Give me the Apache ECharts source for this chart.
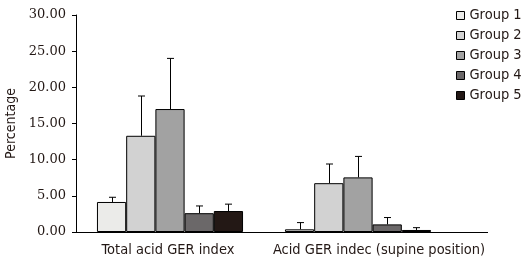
<!DOCTYPE html>
<html>
<head>
<meta charset="utf-8">
<script src="https://cdn.jsdelivr.net/npm/echarts@6/dist/echarts.min.js"></script>
<style>
  html, body { margin: 0; padding: 0; background: #fff; }
  #chart { width: 531px; height: 267px; }
</style>
</head>
<body>
<div id="chart"></div>
<script>
// values
const categories = ["Total acid GER index", "Acid GER indec (supine position)"];
const groups = ["Group 1", "Group 2", "Group 3", "Group 4", "Group 5"];
const means = [
  [4.15, 0.37],
  [13.3, 6.75],
  [17.0, 7.55],
  [2.6, 1.05],
  [2.9, 0.28],
];
const errTops = [
  [4.8, 1.3],
  [18.8, 9.4],
  [24.0, 10.45],
  [3.6, 2.0],
  [3.85, 0.6],
];
const yTicks = [0, 5, 10, 15, 20, 25, 30];

const colors = ["#ebebe9", "#d2d2d2", "#a2a2a2", "#6b6869", "#231815"];
const catGap = 0.223;
const sansFont = "'DejaVu Sans Condensed', 'DejaVu Sans', sans-serif";
const textColor = "#231815";

const chart = echarts.init(document.getElementById("chart"));

const barSeries = groups.map((g, i) => ({
  name: g,
  type: "bar",
  data: means[i],
  barGap: "0%",
  barCategoryGap: catGap * 100 + "%",
  itemStyle: { color: colors[i], borderColor: "#000", borderWidth: 1 },
  emphasis: { disabled: true },
}));

const errSeries = groups.map((g, i) => ({
  name: g + " err",
  type: "custom",
  z: 1,
  data: categories.map((c, k) => [k, means[i][k], errTops[i][k]]),
  renderItem(params, api) {
    const band = api.size([1, 0])[0];
    const bw = (band * (1 - catGap)) / groups.length;
    const base = api.coord([api.value(0), api.value(1)]);
    const top = api.coord([api.value(0), api.value(2)]);
    const x = Math.round(base[0] + (i - 2) * bw) + 0.5;
    const style = { stroke: "#000", lineWidth: 1 };
    return {
      type: "group",
      children: [
        { type: "line", shape: { x1: x, y1: base[1], x2: x, y2: top[1] }, style },
        { type: "line", shape: { x1: x - 3.5, y1: top[1], x2: x + 3.5, y2: top[1] }, style },
      ],
    };
  },
}));

chart.setOption({
  animation: false,
  textStyle: { fontFamily: sansFont },
  grid: {
    left: 76,
    right: 79,
    top: 15,
    bottom: 35,
    containLabel: false,
    outerBoundsMode: "none",
  },
  legend: {
    data: groups,
    orient: "vertical",
    left: 456,
    top: 8,
    padding: 0,
    itemWidth: 8,
    itemHeight: 8,
    itemGap: 5,
    icon: "rect",
    itemStyle: { borderWidth: 1, borderColor: "#000" },
    textStyle: { fontFamily: sansFont, fontSize: 14.5, color: textColor },
  },
  xAxis: {
    type: "category",
    data: categories,
    axisLine: { lineStyle: { color: "#000", width: 1 } },
    axisTick: { show: false },
    axisLabel: {
      interval: 0,
      margin: 11,
      formatter: (v, idx) => (idx === 1 ? "{b|" + v + "}" : "{a|" + v + "}"),
      rich: {
        a: { fontFamily: sansFont, fontSize: 14.5, color: textColor, padding: [0, 4, 0, 0] },
        b: { fontFamily: sansFont, fontSize: 14.5, color: textColor, padding: [0, 0, 0, 42] },
      },
    },
  },
  yAxis: {
    type: "value",
    min: yTicks[0],
    max: yTicks[yTicks.length - 1],
    interval: yTicks[1] - yTicks[0],
    name: "Percentage",
    nameLocation: "middle",
    nameRotate: 90,
    nameGap: 53,
    nameTextStyle: { fontFamily: sansFont, fontSize: 14, color: textColor },
    axisLine: { show: true, lineStyle: { color: "#000", width: 1 } },
    axisTick: { show: true, length: 4, lineStyle: { color: "#000" } },
    splitLine: { show: false },
    axisLabel: {
      fontFamily: "DejaVu Serif",
      fontSize: 13,
      color: textColor,
      margin: 10,
      formatter: (v) => v.toFixed(2),
    },
  },
  graphic: [
    {
      type: "line",
      shape: { x1: 452, y1: 232.5, x2: 488, y2: 232.5 },
      style: { stroke: "#000", lineWidth: 1 },
    },
  ],
  series: [...barSeries, ...errSeries],
});
</script>
</body>
</html>
